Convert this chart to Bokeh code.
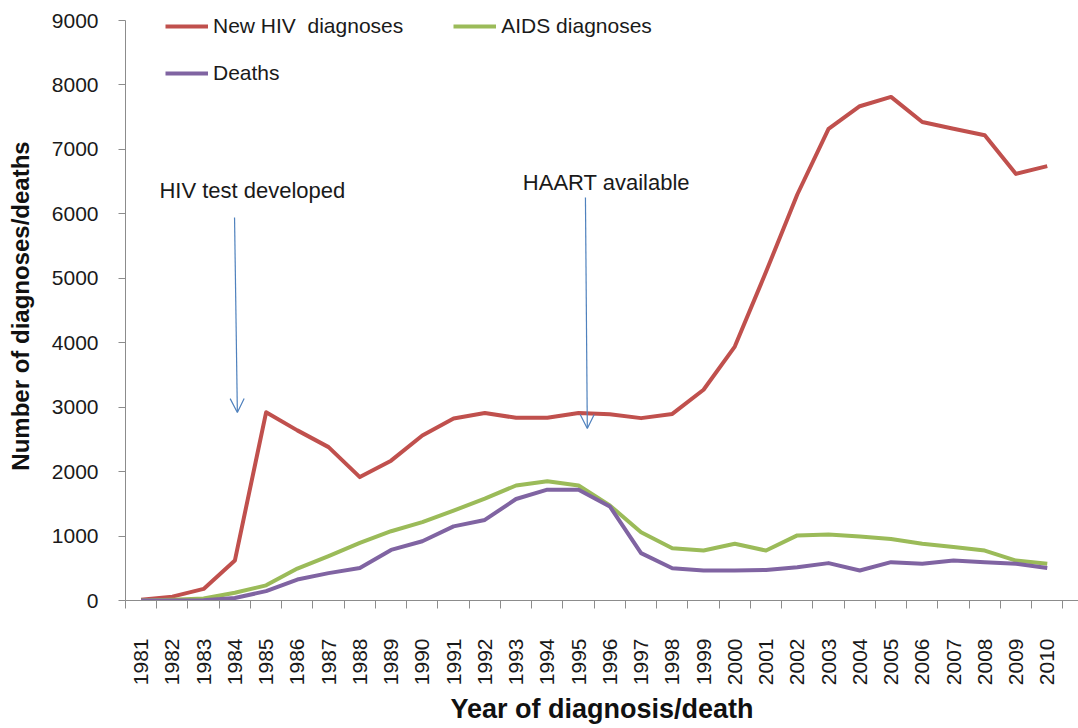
import math
from bokeh.plotting import figure
from bokeh.models import (FixedTicker, Legend, LegendItem, Label, Arrow, OpenHead,
                          ColumnDataSource)
from bokeh.embed import file_html
from bokeh.resources import INLINE

years = [str(y) for y in range(1981, 2011)]
new_hiv = [10, 60, 180, 620, 2920, 2640, 2380, 1915, 2170, 2560, 2825, 2910, 2835, 2835, 2910,
           2890, 2830, 2895, 3270, 3940, 5100, 6300, 7320, 7670, 7815, 7425, 7320, 7220, 6620, 6740]
aids = [0, 10, 30, 120, 235, 495, 690, 895, 1075, 1215, 1395, 1580, 1785, 1850, 1785,
        1475, 1060, 810, 775, 880, 775, 1010, 1025, 995, 955, 880, 830, 775, 620, 570]
deaths = [0, 0, 5, 40, 145, 325, 425, 505, 785, 920, 1150, 1250, 1575, 1720, 1718,
          1460, 735, 500, 465, 465, 475, 515, 580, 465, 595, 570, 620, 595, 570, 505]
y_ticks = [0, 1000, 2000, 3000, 4000, 5000, 6000, 7000, 8000, 9000]

# annotation positions (x in category index units, y in data units)
ann_text = ["HIV test developed", "HAART available"]
ann_text_x = [3.56, 14.89]
ann_text_y = [6362, 6486]
arrow_x0 = [2.99, 14.22]
arrow_y0 = [5943, 6253]
arrow_x1 = [3.08, 14.28]
arrow_y1 = [2917, 2669]

FONT = "Liberation Sans"
TXT = "#1a1a1a"

xs = list(range(len(years)))

# frame spans a little above 9000 so the legend stays inside it; the axis line stops at 9000
p = figure(width=1078, height=728, output_backend="svg", toolbar_location=None,
           x_range=(-0.5, 30.0), y_range=(0, 9140),
           min_border_left=125, min_border_right=0, min_border_top=11, min_border_bottom=128)
p.outline_line_color = None
p.xgrid.visible = False
p.ygrid.visible = False

src = ColumnDataSource(dict(x=xs, hiv=new_hiv, aids=aids, deaths=deaths))
r_hiv = p.line("x", "hiv", source=src, line_color="#C0504D", line_width=4, line_join="round")
r_aids = p.line("x", "aids", source=src, line_color="#9BBB59", line_width=4, line_join="round")
r_dea = p.line("x", "deaths", source=src, line_color="#8064A2", line_width=4, line_join="round")

# y axis
ya = p.yaxis[0]
ya.ticker = FixedTicker(ticks=y_ticks, minor_ticks=[])
ya.bounds = (0, 9000)
ya.axis_line_color = "#8c8c8c"
ya.major_tick_line_color = "#8c8c8c"
ya.major_tick_out = 7
ya.major_tick_in = 0
ya.minor_tick_line_color = None
ya.major_label_standoff = 20
ya.major_label_text_font = FONT
ya.major_label_text_font_size = "21px"
ya.major_label_text_color = TXT
ya.axis_label = "Number of diagnoses/deaths"
ya.axis_label_text_font = FONT
ya.axis_label_text_font_size = "24px"
ya.axis_label_text_font_style = "bold"
ya.axis_label_text_color = "#111111"
ya.axis_label_standoff = 15

# x axis
xa = p.xaxis[0]
xa.ticker = FixedTicker(ticks=xs, minor_ticks=[i - 0.5 for i in range(len(years) + 1)])
xa.major_label_overrides = {i: y for i, y in enumerate(years)}
xa.axis_line_color = "#8c8c8c"
xa.major_tick_line_color = None
xa.major_tick_out = 0
xa.major_tick_in = 0
xa.minor_tick_line_color = "#8c8c8c"
xa.minor_tick_out = 8
xa.minor_tick_in = 0
xa.major_label_orientation = math.pi / 2
xa.major_label_standoff = 30
xa.major_label_text_font = FONT
xa.major_label_text_font_size = "21px"
xa.major_label_text_color = TXT
xa.axis_label = "Year of diagnosis/death"
xa.axis_label_text_font = FONT
xa.axis_label_text_font_size = "27px"
xa.axis_label_text_font_style = "bold"
xa.axis_label_text_color = "#111111"
xa.axis_label_standoff = 6

# legends
def mk_legend(items, loc):
    lg = Legend(items=items, location=loc, orientation="horizontal",
                glyph_width=43, glyph_height=24, label_height=24, label_standoff=5,
                spacing=50, padding=0, margin=0, border_line_color=None,
                background_fill_alpha=0, label_text_font=FONT,
                label_text_font_size="21px", label_text_color=TXT)
    p.add_layout(lg, "center")
    return lg

mk_legend([LegendItem(label="New HIV  diagnoses", renderers=[r_hiv]),
           LegendItem(label="AIDS diagnoses", renderers=[r_aids])], (40, 562))
mk_legend([LegendItem(label="Deaths", renderers=[r_dea])], (40, 515))

# annotations
for t, tx, ty in zip(ann_text, ann_text_x, ann_text_y):
    p.add_layout(Label(x=tx, y=ty, text=t, text_align="center", text_baseline="middle",
                       text_font=FONT, text_font_size="22px", text_color=TXT))
for x0, y0, x1, y1 in zip(arrow_x0, arrow_y0, arrow_x1, arrow_y1):
    p.add_layout(Arrow(x_start=x0, y_start=y0, x_end=x1, y_end=y1,
                       line_color="#4F81BD", line_width=1.2,
                       end=OpenHead(size=14, line_color="#4F81BD", line_width=1.2)))

open("out.html", "w").write(file_html(p, INLINE))
